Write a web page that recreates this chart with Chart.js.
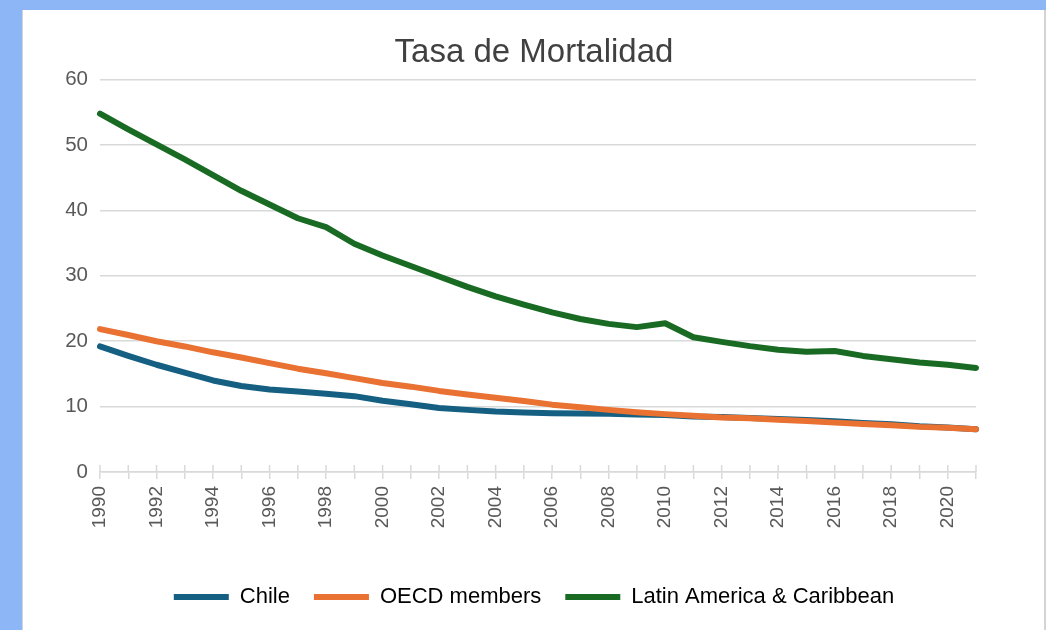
<!DOCTYPE html>
<html>
<head>
<meta charset="utf-8">
<script src="https://cdn.jsdelivr.net/npm/chart.js@4"></script>
<style>
  html, body { margin: 0; padding: 0; }
  body { width: 1046px; height: 630px; background: #8db6f6; position: relative; overflow: hidden; }
  #panel { position: absolute; left: 22px; top: 10px; width: 1021px; height: 630px; background: #ffffff;
           border-left: 1px solid #d4d4d4; border-right: 2px solid #d4d4d4; }
  #wrap { position: absolute; left: 0; top: 0; width: 1046px; height: 630px; }
</style>
</head>
<body>
<div id="panel"></div>
<div id="wrap"><canvas id="c" width="1046" height="630"></canvas></div>
<script>
const years = ['1990','1991','1992','1993','1994','1995','1996','1997','1998','1999','2000','2001','2002','2003','2004','2005','2006','2007','2008','2009','2010','2011','2012','2013','2014','2015','2016','2017','2018','2019','2020','2021'];
const chile = [19.2, 17.75, 16.4, 15.2, 14.0, 13.15, 12.6, 12.3, 11.95, 11.6, 10.9, 10.35, 9.8, 9.5, 9.25, 9.1, 9.0, 8.95, 8.9, 8.8, 8.7, 8.5, 8.4, 8.25, 8.1, 7.95, 7.75, 7.5, 7.3, 7.0, 6.8, 6.55];
const oecd = [21.85, 20.95, 20.0, 19.2, 18.3, 17.5, 16.65, 15.8, 15.1, 14.35, 13.6, 13.05, 12.4, 11.85, 11.35, 10.85, 10.3, 9.9, 9.5, 9.15, 8.85, 8.6, 8.35, 8.2, 8.0, 7.8, 7.55, 7.35, 7.15, 6.9, 6.75, 6.55];
const lac = [54.8, 52.4, 50.1, 47.8, 45.4, 43.0, 40.9, 38.8, 37.45, 34.9, 33.1, 31.5, 29.9, 28.3, 26.85, 25.6, 24.4, 23.4, 22.65, 22.15, 22.75, 20.6, 19.9, 19.25, 18.7, 18.4, 18.5, 17.75, 17.25, 16.75, 16.4, 15.9];
const seriesNames = ['Chile', 'OECD members', 'Latin America & Caribbean'];
const titleText = 'Tasa de Mortalidad';

const gridColor = '#d9d9d9';
const lineW = 6;

// draws the part of each x tick mark that sits above the axis line
const crossTicks = {
  id: 'crossTicks',
  afterDatasetsDraw(chart) {
    const xs = chart.scales.x;
    const ctx = chart.ctx;
    ctx.save();
    ctx.strokeStyle = gridColor;
    ctx.lineWidth = 1.5;
    ctx.beginPath();
    xs.ticks.forEach((t, i) => {
      const px = xs.getPixelForTick(i);
      ctx.moveTo(px, xs.top - 7);
      ctx.lineTo(px, xs.top);
    });
    ctx.stroke();
    ctx.restore();
  }
};

const mk = (name, data, color, order) => ({
  label: name, data, borderColor: color, backgroundColor: color, order,
  borderWidth: lineW, tension: 0, borderCapStyle: 'round', borderJoinStyle: 'round',
  pointRadius: 0, pointHoverRadius: 0, fill: false
});

new Chart(document.getElementById('c'), {
  type: 'line',
  data: {
    labels: years,
    datasets: [
      mk(seriesNames[0], chile, '#156082', 3),
      mk(seriesNames[1], oecd, '#E97132', 2),
      mk(seriesNames[2], lac, '#196B24', 1)
    ]
  },
  options: {
    responsive: false,
    animation: false,
    devicePixelRatio: 1,
    layout: { padding: { left: 24, right: 2, top: 0, bottom: 12 } },
    plugins: {
      title: {
        display: true,
        text: titleText,
        color: '#404040',
        font: { family: 'Liberation Sans', size: 33, weight: 'normal' },
        padding: { top: 33, bottom: 7 }
      },
      legend: {
        position: 'bottom',
        labels: {
          usePointStyle: true,
          pointStyle: 'line',
          pointStyleWidth: 55,
          color: '#000000',
          font: { family: 'Liberation Sans', size: 22 },
          padding: 24,
          sort: (a, b) => a.datasetIndex - b.datasetIndex
        }
      },
      tooltip: { enabled: false }
    },
    scales: {
      x: {
        offset: false,
        grid: { display: true, drawOnChartArea: false, drawTicks: true, tickLength: 7, color: gridColor, lineWidth: 1.5 },
        border: { display: true, color: gridColor, width: 1.5 },
        ticks: {
          autoSkip: false,
          maxRotation: 90,
          minRotation: 90,
          padding: 7,
          color: '#595959',
          font: { family: 'Liberation Sans', size: 19 },
          callback: function(value, index) { return index % 2 === 0 ? this.getLabelForValue(value) : ''; }
        },
        afterFit: (scale) => { scale.height = 90; }
      },
      y: {
        min: 0,
        max: 60,
        grid: { color: gridColor, lineWidth: 1.5, drawTicks: false },
        border: { display: false },
        ticks: {
          stepSize: 10,
          padding: 12,
          color: '#595959',
          font: { family: 'Liberation Sans', size: 20.5 }
        },
        afterFit: (scale) => { scale.width = 76; }
      },
      yRight: {
        position: 'right',
        display: true,
        min: 0,
        max: 60,
        grid: { display: false, drawOnChartArea: false },
        border: { display: false },
        ticks: { display: false },
        afterFit: (scale) => { scale.width = 68; }
      }
    }
  },
  plugins: [crossTicks]
});
</script>
</body>
</html>
